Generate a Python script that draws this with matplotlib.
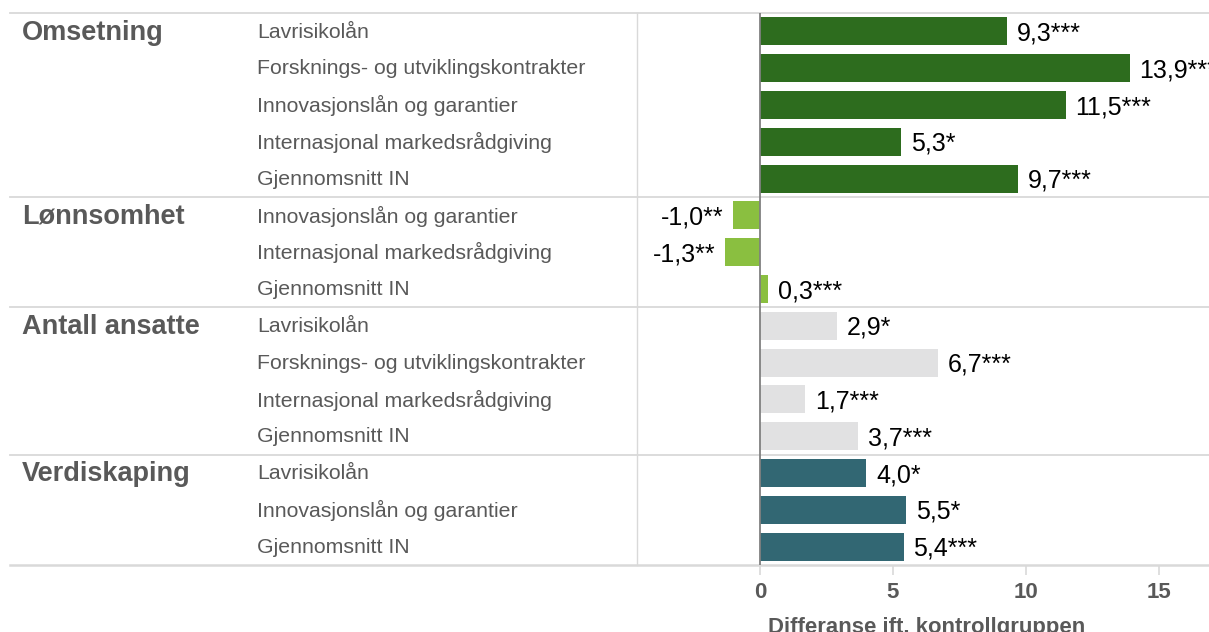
import matplotlib
matplotlib.use("Agg")
import matplotlib.pyplot as plt
from matplotlib.transforms import blended_transform_factory
from matplotlib.lines import Line2D

plt.rcParams['font.family'] = ['Liberation Sans', 'DejaVu Sans']

groups = ["Omsetning", "Lønnsomhet", "Antall ansatte", "Verdiskaping"]
group_items = [
    ["Lavrisikolån", "Forsknings- og utviklingskontrakter", "Innovasjonslån og garantier",
     "Internasjonal markedsrådgiving", "Gjennomsnitt IN"],
    ["Innovasjonslån og garantier", "Internasjonal markedsrådgiving", "Gjennomsnitt IN"],
    ["Lavrisikolån", "Forsknings- og utviklingskontrakter", "Internasjonal markedsrådgiving",
     "Gjennomsnitt IN"],
    ["Lavrisikolån", "Innovasjonslån og garantier", "Gjennomsnitt IN"],
]
group_values = [
    [9.3, 13.9, 11.5, 5.3, 9.7],
    [-1.0, -1.3, 0.3],
    [2.9, 6.7, 1.7, 3.7],
    [4.0, 5.5, 5.4],
]
group_stars = [
    ["***", "***", "***", "*", "***"],
    ["**", "**", "***"],
    ["*", "***", "***", "***"],
    ["*", "*", "***"],
]
group_colors = ["#2d6c1e", "#8abf40", "#e1e1e2", "#326773"]
x_ticks = [0, 5, 10, 15]
x_label = "Differanse ift. kontrollgruppen"

W, H = 1209, 632
fig = plt.figure(figsize=(W / 100, H / 100), dpi=100)
left_px, right_px, top_px, bot_px = 637, 1209, 13, 565
ax = fig.add_axes([left_px / W, 1 - bot_px / H, (right_px - left_px) / W, (bot_px - top_px) / H])

n_rows = sum(len(v) for v in group_values)
ax.set_ylim(n_rows - 0.5, -0.5)
ax.set_xlim(-4.62, 16.88)

trans = blended_transform_factory(fig.transFigure, ax.transData)
grid_col = "#d9d9d9"
text_col = "#595959"

row = 0
for g, items, vals, stars, col in zip(groups, group_items, group_values, group_stars, group_colors):
    start = row
    ax.text(22 / W, row + 0.04, g, transform=trans, ha="left", va="center",
            fontsize=19.5, fontweight="bold", color=text_col)
    for it, v, s in zip(items, vals, stars):
        ax.barh(row, v, height=0.76, color=col, zorder=2)
        ax.text(257 / W, row + 0.02, it, transform=trans, ha="left", va="center",
                fontsize=15.3, color=text_col)
        lab = f"{v:.1f}".replace(".", ",") + s
        if v >= 0:
            ax.annotate(lab, (v, row), xytext=(7, -1.5), textcoords="offset points",
                        ha="left", va="center", fontsize=18, color="black",
                        annotation_clip=False)
        else:
            ax.annotate(lab, (v, row), xytext=(-7, -1.5), textcoords="offset points",
                        ha="right", va="center", fontsize=18, color="black",
                        annotation_clip=False)
        row += 1
    fig.add_artist(Line2D([10 / W, 1.0], [start - 0.5, start - 0.5], transform=trans,
                          color=grid_col, lw=1.3, zorder=0))
fig.add_artist(Line2D([10 / W, 1.0], [row - 0.5, row - 0.5], transform=trans,
                      color=grid_col, lw=1.8, zorder=0))

ax.axvline(0, color="#808080", lw=1.3, zorder=3)
for sp in ["top", "right", "bottom"]:
    ax.spines[sp].set_visible(False)
ax.spines["left"].set_color(grid_col)
ax.spines["left"].set_linewidth(1.0)
ax.set_yticks([])
ax.set_xticks(x_ticks)
ax.set_xticklabels([str(t) for t in x_ticks])
ax.tick_params(axis="x", length=7, width=1.2, color="#d9d9d9", pad=5,
               labelsize=16, labelcolor=text_col)
for t in ax.get_xticklabels():
    t.set_fontweight("bold")
ax.set_xlabel(x_label, fontsize=15.9, fontweight="bold", color=text_col)
ax.xaxis.set_label_coords((927 - left_px) / (right_px - left_px), -0.113)
ax.xaxis.label.set_va("center")
ax.patch.set_alpha(0)

fig.savefig("out.png", dpi=100)
